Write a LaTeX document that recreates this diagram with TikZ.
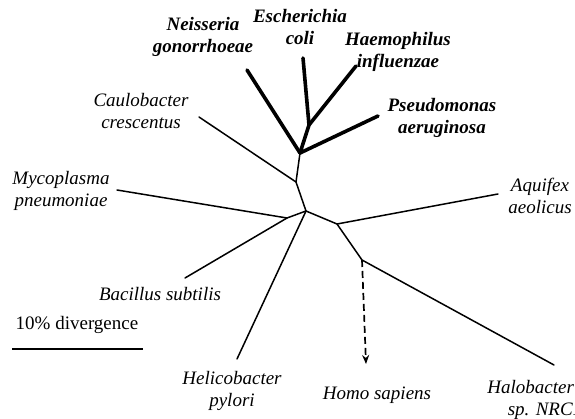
\documentclass[tikz,border=0pt]{standalone}
\usepackage{fontspec}
\setmainfont{Liberation Serif}
\usetikzlibrary{arrows.meta}
\begin{document}
\begin{tikzpicture}[x=1pt,y=-1pt,
  lbl/.style={inner sep=0pt,align=center,font=\fontsize{19}{22.5}\selectfont\itshape},
  blbl/.style={lbl,font=\fontsize{19}{22.5}\selectfont\bfseries\itshape},
  br/.style={line width=1.5pt,line cap=round,line join=round},
  tbr/.style={line width=3.6pt,line cap=round,line join=round}]
\useasboundingbox (0,0) rectangle (575,419);
% internal nodes
\coordinate (gam) at (300,153);
\coordinate (eh) at (309,125);
\coordinate (cj) at (296,182);
\coordinate (cen) at (306,211);
\coordinate (mb) at (287,218);
\coordinate (aj) at (337,224);
\coordinate (hj) at (362,260);
% tips
\coordinate (tNei) at (247,70);
\coordinate (tEsc) at (303,58);
\coordinate (tHae) at (356,66);
\coordinate (tPse) at (378,116);
\coordinate (tCau) at (199,117);
\coordinate (tMyc) at (117,190);
\coordinate (tBac) at (185,278);
\coordinate (tHel) at (237,359);
\coordinate (tAqu) at (498,194);
\coordinate (tHal) at (554,365);
\coordinate (tHom) at (366,364);
% thick branches
\draw[tbr] (tNei) -- (gam);
\draw[tbr] (tEsc) -- (eh);
\draw[tbr] (tHae) -- (eh);
\draw[tbr] (eh) -- (gam);
\draw[tbr] (tPse) -- (gam);
% thin branches
\draw[br] (gam) -- (cj) -- (cen) -- (mb);
\draw[br] (tCau) -- (cj);
\draw[br] (tMyc) -- (mb);
\draw[br] (tBac) -- (mb);
\draw[br] (tHel) -- (cen);
\draw[br] (cen) -- (aj) -- (hj) -- (tHal);
\draw[br] (aj) -- (tAqu);
\draw[line width=1.7pt,dash pattern=on 7pt off 4pt,-{Stealth[length=9pt,width=7pt]}] (hj) -- (tHom);
% labels
\node[blbl] (lNei) at (203,37) {Neisseria\\gonorrhoeae};
\node[blbl] (lEsc) at (300,27) {Escherichia\\coli};
\node[blbl] (lHae) at (398,52) {Haemophilus\\influenzae};
\node[blbl] (lPse) at (442,118) {Pseudomonas\\aeruginosa};
\node[lbl] (lCau) at (141,111) {Caulobacter\\crescentus};
\node[lbl] (lMyc) at (61,191) {Mycoplasma\\pneumoniae};
\node[lbl] (lAqu) at (540,196) {Aquifex\\aeolicus};
\node[lbl,anchor=base] (lBac) at (160,301) {Bacillus subtilis};
\node[lbl] (lHel) at (232,391) {Helicobacter\\pylori};
\node[lbl,anchor=base] (lHom) at (377,399) {Homo sapiens};
\node[lbl] (lHal) at (545,400) {Halobacterium\\sp. NRC1};
% scale bar
\node[inner sep=0pt,anchor=base,font=\fontsize{19}{22.5}\selectfont] (sc) at (77,329) {10\% divergence};
\coordinate (s1) at (12,349);
\coordinate (s2) at (143,349);
\draw[line width=1.5pt] (s1) -- (s2);
\end{tikzpicture}
\end{document}
